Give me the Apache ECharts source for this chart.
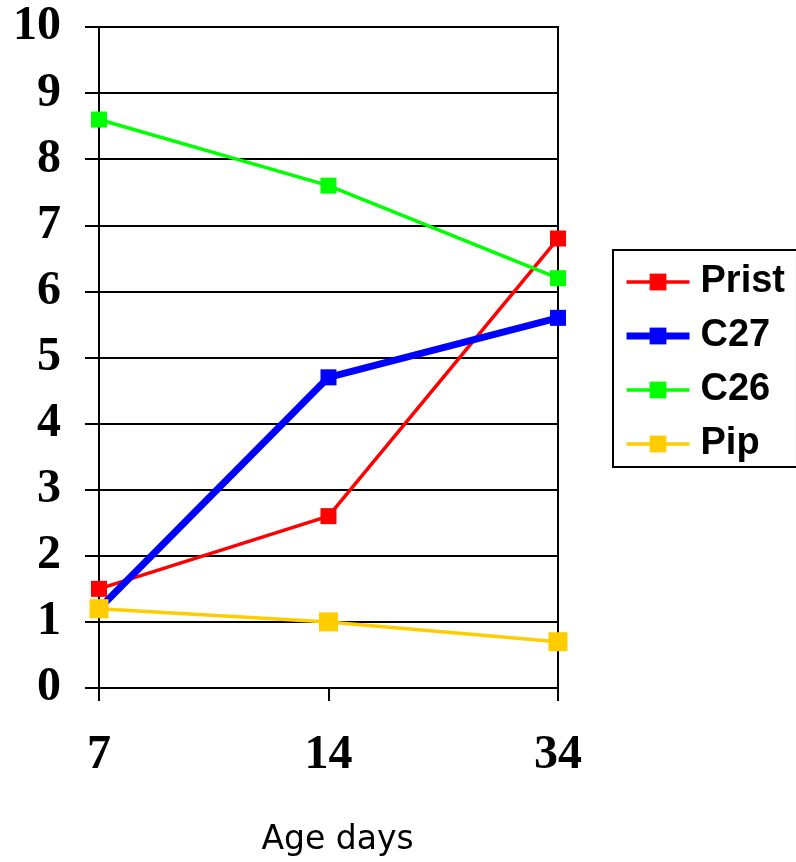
<!DOCTYPE html>
<html>
<head>
<meta charset="utf-8">
<script src="https://cdn.jsdelivr.net/npm/echarts@6/dist/echarts.min.js"></script>
<style>
html,body{margin:0;padding:0;background:#fff;}
#chart{width:796px;height:862px;}
</style>
</head>
<body>
<div id="chart"></div>
<script>
var categories = ['7', '14', '34'];
var prist = [1.5, 2.6, 6.8];
var c27 = [1.2, 4.7, 5.6];
var c26 = [8.6, 7.6, 6.2];
var pip = [1.2, 1.0, 0.7];
var seriesNames = ['Prist', 'C27', 'C26', 'Pip'];
var xAxisTitle = 'Age days';

var chart = echarts.init(document.getElementById('chart'));
function mk(name, data, color, width, size) {
  return {
    name: name, type: 'line', data: data,
    symbol: 'rect', symbolSize: size,
    lineStyle: {color: color, width: width},
    itemStyle: {color: color},
    animation: false
  };
}
var widths = [3.5, 7, 3.5, 3.5];
chart.setOption({
  animation: false,
  grid: {left: 99, right: 238, top: 27, bottom: 172, show: true, borderColor: '#000', borderWidth: 2, backgroundColor: 'transparent'},
  legend: {
    orient: 'vertical', left: 613, top: 250,
    data: seriesNames.map(function (n, i) { return {name: n, lineStyle: {width: widths[i]}}; }),
    borderColor: '#000', borderWidth: 2,
    padding: [12, 12, 3, 10],
    itemWidth: 63, itemHeight: 21, itemGap: 14,
    textStyle: {fontFamily: 'Liberation Sans', fontWeight: 'bold', fontSize: 38, color: '#000', lineHeight: 40, padding: [0, 0, 0, 6]}
  },
  xAxis: {
    type: 'category', data: categories, boundaryGap: false,
    axisLine: {lineStyle: {color: '#000', width: 2}},
    axisTick: {show: true, length: 13, alignWithLabel: true, lineStyle: {color: '#000', width: 2}},
    axisLabel: {margin: 44, fontFamily: 'Liberation Serif', fontWeight: 'bold', fontSize: 48, color: '#000'},
    splitLine: {show: false},
    name: xAxisTitle, nameLocation: 'middle', nameGap: 136,
    nameTextStyle: {fontFamily: 'DejaVu Sans', fontSize: 33, color: '#000', padding: [0, 0, 0, 18]}
  },
  yAxis: {
    type: 'value', min: 0, max: 10, interval: 1,
    axisLine: {show: true, lineStyle: {color: '#000', width: 2}},
    axisTick: {show: true, length: 14, lineStyle: {color: '#000', width: 2}},
    axisLabel: {margin: 38, padding: [6, 0, 0, 0], fontFamily: 'Liberation Serif', fontWeight: 'bold', fontSize: 48, color: '#000'},
    splitLine: {show: true, lineStyle: {color: '#000', width: 2}}
  },
  series: [
    mk('Prist', prist, '#FF0000', widths[0], 16),
    mk('C27', c27, '#0000FF', widths[1], 16),
    mk('C26', c26, '#00FF00', widths[2], 16),
    mk('Pip', pip, '#FFCC00', widths[3], 19)
  ]
});
</script>
</body>
</html>
